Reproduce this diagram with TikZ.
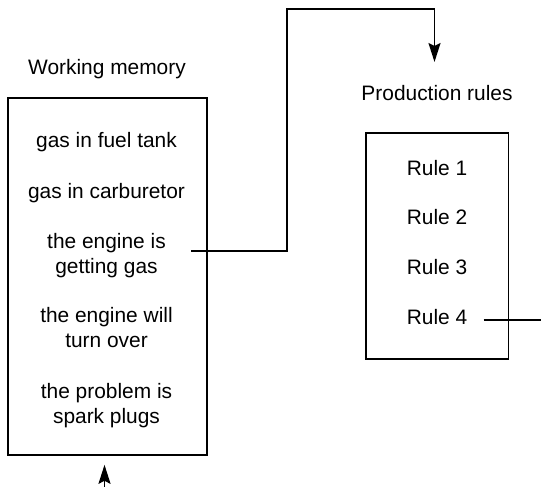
\documentclass[tikz,border=0pt]{standalone}
\usepackage{fontspec}
\setmainfont{Liberation Sans}
\usetikzlibrary{positioning,arrows.meta}

\begin{document}
\begin{tikzpicture}[x=0.5pt, y=-0.5pt,
  font=\fontsize{10.45pt}{12.5pt}\selectfont, node distance=24.85pt, on grid, >=Stealth,
  box/.style={draw, line width=0.8pt, inner sep=0pt},
  title/.style={anchor=base, inner sep=0pt},
  fact/.style={align=center, anchor=base, inner sep=0pt},
  rulename/.style={inner sep=0pt},
  arr/.style={-{Stealth[length=9.5pt, width=6pt, inset=1.5pt]}, line width=0.9pt},
  link/.style={line width=0.9pt}]
  \useasboundingbox (0,0) rectangle (541,487);
  \node[title] (wmtitle) at (107,74) {Working memory};
  \node[box, minimum width=99.5pt, minimum height=178.5pt] (wm) at (107.5,276.5) {};
  \node[fact] (tank)  at (106.5,147.6) {gas in fuel tank};
  \node[fact] (carb)  at (106.5,198)   {gas in carburetor};
  \node[fact] (gas)   at (106.5,273)   {the engine is\\ getting gas};
  \node[fact] (turn)  at (106.5,347.6) {the engine will\\ turn over};
  \node[fact] (plugs) at (106.5,423.5) {the problem is\\ spark plugs};
  \node[title] (prtitle) at (437,100) {Production rules};
  \node[box, minimum width=71.3pt, minimum height=113pt] (pr) at (437.3,246) {};
  \node[rulename, anchor=base] (r1) at (437,175) {Rule 1};
  \node[rulename, below=of r1] (r2) {Rule 2};
  \node[rulename, below=of r2] (r3) {Rule 3};
  \node[rulename, below=of r3] (r4) {Rule 4};
  \coordinate (bend) at (287,8.6);
  \coordinate (prin) at (434.5,62);
  \coordinate (wmin) at (104.5,487);
  \draw[arr] ([shift={(12.5pt,2pt)}]gas.east) -| (bend) -| (prin);
  \draw[link] ([shift={(8pt,-1.75pt)}]r4.east) -- ++(30pt,0);
  \draw[arr, shorten >=4.5pt] (wmin) -- (wmin |- wm.south);
\end{tikzpicture}
\end{document}
